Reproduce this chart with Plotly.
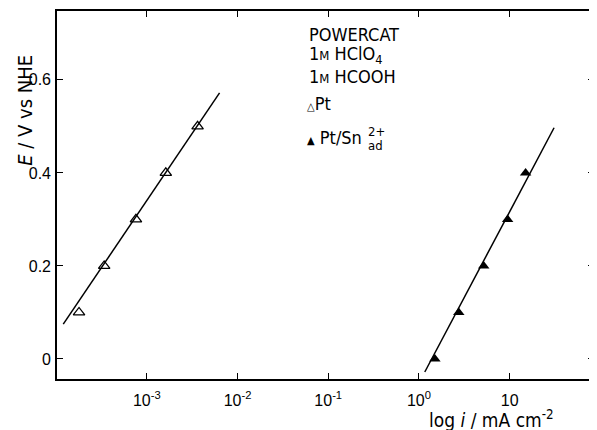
import plotly.graph_objects as go

# Data
pt_i = [1.79e-4, 3.39e-4, 7.59e-4, 1.62e-3, 3.63e-3]
pt_E = [0.10, 0.20, 0.30, 0.40, 0.50]
ptsn_i = [1.50, 2.75, 5.18, 9.50, 15.0]
ptsn_E = [0.00, 0.10, 0.20, 0.30, 0.40]
pt_fit_i = [1.20e-4, 6.34e-3]
pt_fit_E = [0.075, 0.572]
ptsn_fit_i = [1.16, 30.9]
ptsn_fit_E = [-0.028, 0.497]

x_tickvals = [1e-3, 1e-2, 1e-1, 1, 10]
x_ticktext = ["10<sup>-3</sup>", "10<sup>-2</sup>", "10<sup>-1</sup>", "10<sup>0</sup>", "10"]
y_tickvals = [0, 0.2, 0.4, 0.6]
y_ticktext = ["0", "0.2", "0.4", "0.6"]

FONT = "Liberation Sans Narrow, DejaVu Sans Condensed, Arial Narrow, sans-serif"
TICKFONT = "Liberation Sans"
OFF = 8  # page body margin offset
W, H = 597 - OFF, 430 - OFF
L, R, T, B = 57 - OFF, 1, 10 - OFF, 51
PW, PH = W - L - R, H - T - B

def px(x):
    return (x - OFF - L) / PW

def py(y):
    return (H - B - (y - OFF)) / PH

fig = go.Figure()
fig.add_trace(go.Scatter(x=pt_fit_i, y=pt_fit_E, mode="lines",
                         line=dict(color="black", width=1.5), showlegend=False))
fig.add_trace(go.Scatter(x=ptsn_fit_i, y=ptsn_fit_E, mode="lines",
                         line=dict(color="black", width=1.5), showlegend=False))
fig.add_trace(go.Scatter(x=pt_i, y=pt_E, mode="markers",
                         marker=dict(symbol="triangle-up-open", size=10, color="black",
                                     line=dict(width=1.3, color="black")),
                         showlegend=False))
fig.add_trace(go.Scatter(x=ptsn_i, y=ptsn_E, mode="markers",
                         marker=dict(symbol="triangle-up", size=10, color="black"),
                         showlegend=False))

axis_common = dict(showline=True, linecolor="black", linewidth=1.6, mirror="ticks",
                   ticks="inside", ticklen=6, tickwidth=1.3, tickcolor="black",
                   showgrid=False, zeroline=False,
                   tickfont=dict(family=TICKFONT, size=16, color="black"))

fig.update_xaxes(type="log", range=[-3.99, 1.93], tickvals=x_tickvals, ticktext=x_ticktext,
                 ticklabelstandoff=6, **axis_common)
fig.update_yaxes(range=[-0.043, 0.748], tickvals=y_tickvals, ticktext=y_ticktext,
                 ticklabelstandoff=1, **axis_common)

ann = []
def add(text, x, y, size=18, xanchor="left", yanchor="middle", **kw):
    ann.append(dict(text=text, x=px(x), y=py(y), xref="paper", yref="paper",
                    showarrow=False, xanchor=xanchor, yanchor=yanchor,
                    font=dict(family=FONT, size=size, color="black"), **kw))

small_m = "<span style='font-size:13px'>M</span>"
add("POWERCAT", 308, 34)
add("1" + small_m + " HClO<sub>4</sub>", 308, 54)
add("1" + small_m + " HCOOH", 308, 76)
add("<span style='font-size:11px'>△</span>Pt", 306, 103)
add("<span style='font-size:11px'>▲</span> Pt/Sn", 306, 137)
add("2+", 367, 131, size=13)
add("ad", 367, 145, size=13)

# axis titles
add("log <i>i</i> / mA cm<sup>-2</sup>", 493, 419, size=19, xanchor="center")
ann.append(dict(text="<i>E</i> / V vs NHE", x=px(25), y=py(110), xref="paper", yref="paper",
                showarrow=False, textangle=-90, xanchor="center", yanchor="middle",
                font=dict(family=FONT, size=20, color="black")))

fig.update_layout(width=W, height=H, margin=dict(l=L, r=R, t=T, b=B),
                  paper_bgcolor="white", plot_bgcolor="white", annotations=ann)

fig.write_html("out.html")
